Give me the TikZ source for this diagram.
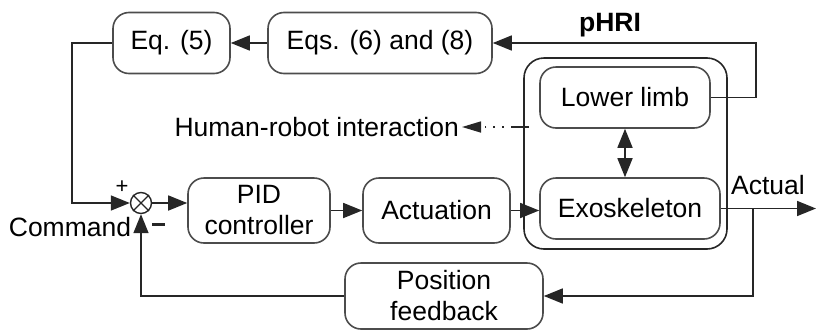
\documentclass[tikz,border=0pt]{standalone}
\usepackage{fontspec}
\setmainfont{Liberation Sans}
\usetikzlibrary{arrows.meta,calc}
\begin{document}
\begin{tikzpicture}[x=1pt,y=-1pt,
  font=\fontsize{26.5}{31}\selectfont,
  blk/.style={draw=black!70,line width=1.6pt,rounded corners=16pt,minimum width=#1,minimum height=61pt,inner sep=0pt,align=center},
  line/.style={line width=1.6pt,draw=black!85},
  conn/.style={line,-{Triangle[length=19pt,width=15pt]}},
  lbl/.style={inner sep=0pt}]
\useasboundingbox (0,0) rectangle (816,330);
% blocks
\node[blk=117pt] (eq5) at (171.5,43) {Eq. (5)};
\node[blk=224pt] (eqs) at (380,43) {Eqs. (6) and (8)};
\node[draw=black!85,line width=1.6pt,rounded corners=20pt,minimum width=203pt,minimum height=191pt,inner sep=0pt] (outer) at (625.5,153.5) {};
\node[blk=170pt] (limb) at (625,97.5) {Lower limb};
\node[blk=180pt] (exo) at (630,208.5) {Exoskeleton};
\node[blk=142pt,minimum height=65pt] (pid) at (259,210.5) {PID\\controller};
\node[blk=147pt,minimum height=65pt] (act) at (436.5,210.5) {Actuation};
\node[blk=198pt,minimum height=66pt] (pos) at (444,296) {Position\\feedback};
% summing junction
\node[circle,draw=black!85,line width=1.4pt,minimum size=21pt,inner sep=0pt] (sum) at (141,203) {};
\draw[line,line width=1.2pt] (sum.north west) -- (sum.south east) (sum.north east) -- (sum.south west);
% labels
\node[lbl,font=\fontsize{26.5}{31}\selectfont\bfseries] (phri) at (610,25) {pHRI};
\node[lbl,anchor=east] (hri) at (459,127) {Human-robot interaction};
\node[lbl] (cmd) at (70,227) {Command};
\node[lbl,font=\fontsize{22}{26}\selectfont] (plus) at (122,187) {+};
\node[lbl,fill=black!85,minimum width=13pt,minimum height=3pt] (minus) at (158,224) {};
\node[lbl] (actual) at (768,185) {Actual};
% connectors
\draw[conn] (eqs) -- (eq5);
\draw[conn] (limb.east) -- ++(45,0) |- (eqs.east);
\draw[conn] (eq5.west) -- ++(-40,0) |- (sum.west);
\draw[conn] (sum.east) -- (sum.east -| pid.west);
\draw[conn] (pid.east) -- (act.west);
\draw[conn] (act.east) -- (act.east -| exo.west);
\draw[line,{Triangle[length=19pt,width=15pt]}-{Triangle[length=19pt,width=15pt]}] (limb.south) -- (limb.south |- exo.north);
\coordinate (out) at (816,208.5);
\draw[conn] (exo.east) -- (out);
\coordinate (br) at (753,208.5);
\draw[conn] (br) |- (pos.east);
\draw[conn] (pos.west) -| (sum.south);
\draw[line] ($(outer.west |- hri)+(6,0)$) -- ++(-17,0);
\draw[line,dash pattern=on 1.6pt off 7pt,-{Triangle[length=19pt,width=11pt]}] ($(outer.west |- hri)+(-11,0)$) -- ($(hri.east)+(3,0)$);
\end{tikzpicture}
\end{document}
